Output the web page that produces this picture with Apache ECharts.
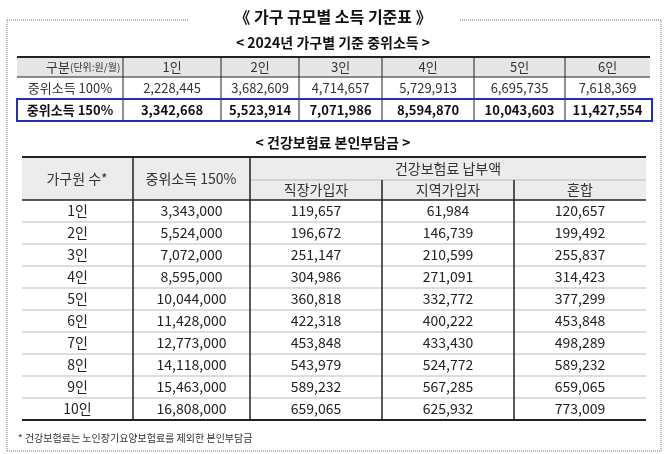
<!DOCTYPE html>
<html><head><meta charset="utf-8">
<script src="https://cdn.jsdelivr.net/npm/echarts@6/dist/echarts.min.js"></script>
<style>html,body{margin:0;padding:0;background:#fff}#c{width:666px;height:454px}</style>
</head><body><div id="c"></div>
<script>
const title = '《 가구 규모별 소득 기준표 》';
const subtitle1 = '< 2024년 가구별 기준 중위소득 >';
const subtitle2 = '< 건강보험료 본인부담금 >';
const footnote = '* 건강보험료는 노인장기요양보험료를 제외한 본인부담금';
const sizes1 = ['1인','2인','3인','4인','5인','6인'];
const median100 = [2228445,3682609,4714657,5729913,6695735,7618369];
const median150 = [3342668,5523914,7071986,8594870,10043603,11427554];
const sizes2 = ['1인','2인','3인','4인','5인','6인','7인','8인','9인','10인'];
const income150 = [3343000,5524000,7072000,8595000,10044000,11428000,12773000,14118000,15463000,16808000];
const employee = [119657,196672,251147,304986,360818,422318,453848,543979,589232,659065];
const regional = [61984,146739,210599,271091,332772,400222,433430,524772,567285,625932];
const mixed = [120657,199492,255837,314423,377299,453848,498289,589232,659065,773009];
const headers2 = ['가구원 수*','중위소득 150%','건강보험료 납부액','직장가입자','지역가입자','혼합'];

(function(){
const fmt = v => v.toLocaleString('en-US');
const F = '"Noto Sans CJK KR", "Noto Sans", sans-serif';
const g = [];
const txt = (x,y,s,o={}) => g.push({type:'text',x,y,style:{text:s,font:(o.bold?'bold ':'')+(o.size||13)+'px '+F,fill:o.color||'#111',align:o.align||'center',verticalAlign:'middle'}});
const rect = (x,y,w,h,fill) => g.push({type:'rect',shape:{x,y,width:w,height:h},style:{fill}});
const line = (x1,y1,x2,y2,lw,c,dash) => g.push({type:'line',shape:{x1,y1,x2,y2},style:{stroke:c||'#222',lineWidth:lw||1,lineDash:dash||null}});

line(7,20,188,20,1,'#777',[1,1]); line(460,20,661,20,1,'#777',[1,1]);
line(7,20,7,451,1,'#777',[1,1]); line(661,20,661,451,1,'#777',[1,1]);
line(7,451,661,451,1,'#777',[1,1]);
txt(333,17,title,{bold:true,size:16});
txt(333,43,subtitle1,{bold:true,size:14});

const c1 = [17,123,221,299,382,474,565,650];
rect(17,57,633,20,'#e6e6e6');
txt(70,67,'구분',{size:13,color:'#333',align:'right'});
g.push({type:'text',x:70,y:67,style:{text:'(단위:원/월)',font:'10px '+F,fill:'#333',align:'left',verticalAlign:'middle'}});
sizes1.forEach((s,i)=>txt((c1[i+1]+c1[i+2])/2,67,s,{color:'#333'}));
txt(70,88,'중위소득 100%',{color:'#333'});
median100.forEach((v,i)=>txt((c1[i+1]+c1[i+2])/2,88,fmt(v),{color:'#333'}));
txt(70,110,'중위소득 150%',{bold:true});
median150.forEach((v,i)=>txt((c1[i+1]+c1[i+2])/2,110,fmt(v),{bold:true}));
line(17,57,650,57,2,'#222'); line(17,77,650,77,1,'#222'); line(17,99,650,99,1,'#999');
for(let i=1;i<c1.length-1;i++) line(c1[i],57,c1[i],121,1,'#222');
g.push({type:'rect',shape:{x:17,y:99,width:635,height:22},style:{fill:null,stroke:'#2233aa',lineWidth:2}});

txt(333,143,subtitle2,{bold:true,size:14});
const c2 = [22,133,250,382,514,646];
const yTop=157, hMid=180, hBot=200, rh=22;
rect(22,yTop,624,hBot-yTop,'#ececec');
txt(77,179,headers2[0],{size:14,color:'#333'});
txt(191,179,headers2[1],{size:14,color:'#333'});
txt(448,169,headers2[2],{size:14,color:'#333'});
txt(316,190,headers2[3],{size:14,color:'#333'});
txt(448,190,headers2[4],{size:14,color:'#333'});
txt(580,190,headers2[5],{size:14,color:'#333'});
const cols=[sizes2,income150.map(fmt),employee.map(fmt),regional.map(fmt),mixed.map(fmt)];
sizes2.forEach((s,r)=>{
  const y=hBot+rh*r+rh/2;
  cols.forEach((col,ci)=>txt((c2[ci]+c2[ci+1])/2,y,col[r],{size:14,color:'#222'}));
  if(r>0) line(22,hBot+rh*r,646,hBot+rh*r,1,'#bbb');
});
const bot=hBot+rh*10;
line(22,yTop,646,yTop,2,'#222'); line(22,hBot,646,hBot,1.5,'#222'); line(22,bot,646,bot,2,'#222');
line(250,hMid,646,hMid,1,'#bbb');
line(133,yTop,133,bot,1.5,'#222'); line(250,yTop,250,bot,1.5,'#222');
line(382,hMid,382,bot,1.5,'#222'); line(514,hMid,514,bot,1.5,'#222');
g.push({type:'text',x:18,y:438,style:{text:footnote,font:'10px '+F,fill:'#333',align:'left',verticalAlign:'middle'}});

const chart = echarts.init(document.getElementById('c'));
chart.setOption({backgroundColor:'#fff',graphic:{elements:g}});
})();
</script></body></html>
